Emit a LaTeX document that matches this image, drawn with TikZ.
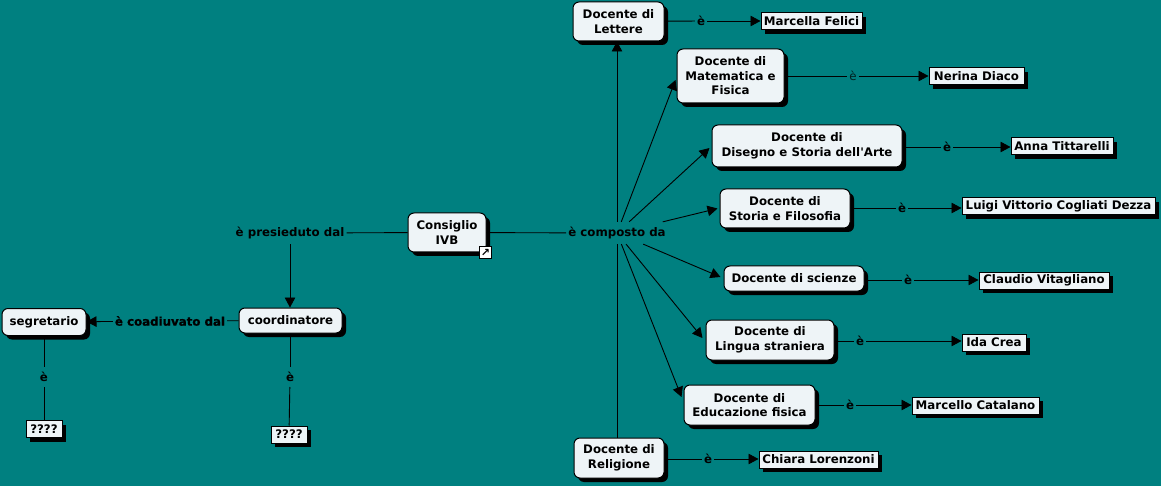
\documentclass[tikz,border=0pt]{standalone}
\usepackage{fontspec}
\setmainfont{DejaVu Sans}
\newfontface\heavyfont[FakeBold=1.2]{DejaVu Sans Bold}
\usepackage{xcolor}
\usetikzlibrary{arrows.meta,shadows}
\definecolor{mapteal}{HTML}{008080}
\definecolor{mapfill}{HTML}{EEF4F7}
\tikzset{
  conc/.style={draw=black, line width=1pt, rounded corners=6pt, fill=mapfill, align=center, inner sep=0pt, font=\fontsize{11.8}{14.5}\selectfont\bfseries, drop shadow={shadow xshift=4pt, shadow yshift=-4pt, fill=black, opacity=1}},
  namebox/.style={draw=black, line width=1pt, fill=mapfill, minimum height=17pt, inner sep=0pt, font=\fontsize{11.8}{13}\selectfont\bfseries, drop shadow={shadow xshift=4pt, shadow yshift=-4pt, fill=black, opacity=1}},
  link/.style={inner xsep=2pt, inner ysep=5pt, text=black, font=\fontsize{11.8}{13}\selectfont\bfseries},
  thinlink/.style={inner xsep=2pt, inner ysep=5pt, text=black!75!mapteal, font=\fontsize{11.8}{13}\selectfont},
  line/.style={line width=0.9pt, draw=black},
  arrow/.style={-{Triangle[length=10pt,width=10.5pt]}, line width=0.9pt, draw=black}
}

\begin{document}
\begin{tikzpicture}[x=1pt, y=-1pt]
  \fill[mapteal] (0,0) rectangle (1161,486);
  \useasboundingbox (0,0) rectangle (1161,486);

  \node[conc, minimum width=78pt, minimum height=39pt] (cons) at (447,232.5) {Consiglio\\IVB};
  \node[draw=black, line width=0.8pt, fill=white, minimum size=12pt, inner sep=0pt, font=\fontsize{11}{11}\selectfont\bfseries] (icon) at (485.5,252.5) {↗};

  \node[conc, minimum width=91pt, minimum height=39pt] (lett) at (618.5,21.5) {Docente di\\Lettere};
  \node[conc, minimum width=107pt, minimum height=54pt] (mate) at (730.5,76) {Docente di\\Matematica e\\Fisica};
  \node[conc, minimum width=190pt, minimum height=42pt] (dise) at (807,146) {Docente di\\Disegno e Storia dell\textquotesingle Arte};
  \node[conc, minimum width=130pt, minimum height=39pt] (stor) at (785,208.5) {Docente di\\Storia e Filosofia};
  \node[conc, minimum width=140pt, minimum height=25pt] (scie) at (794,278.5) {Docente di scienze};
  \node[conc, minimum width=128pt, minimum height=40pt] (ling) at (770,340) {Docente di\\Lingua straniera};
  \node[conc, minimum width=131pt, minimum height=40pt] (educ) at (749.5,405) {Docente di\\Educazione fisica};
  \node[conc, minimum width=90pt, minimum height=40pt] (reli) at (619,458) {Docente di\\Religione};
  \node[conc, minimum width=103pt, minimum height=25pt] (coor) at (290.5,320.5) {coordinatore};
  \node[conc, minimum width=84pt, minimum height=27pt] (segr) at (44,322) {segretario};

  \node[namebox, minimum width=101pt] (marc) at (811.5,21.5) {Marcella Felici};
  \node[namebox, minimum width=95pt] (neri) at (976.5,76.5) {Nerina Diaco};
  \node[namebox, minimum width=102pt] (anna) at (1062,146.5) {Anna Tittarelli};
  \node[namebox, minimum width=193pt] (luig) at (1058.5,206.5) {Luigi Vittorio Cogliati Dezza};
  \node[namebox, minimum width=130pt] (clau) at (1044,280.5) {Claudio Vitagliano};
  \node[namebox, minimum width=64pt] (ida) at (994,342.5) {Ida Crea};
  \node[namebox, minimum width=127pt] (mcat) at (975.5,405.5) {Marcello Catalano};
  \node[namebox, minimum width=119pt] (chia) at (818.5,459.5) {Chiara Lorenzoni};
  \node[namebox, minimum width=36pt] (qseg) at (44,429) {????};
  \node[namebox, minimum width=36pt] (qcoo) at (289,434.5) {????};

  \node[link] (comp) at (617,233) {è composto da};
  \node[link] (pres) at (290,233) {è presieduto dal};
  \node[link, font=\fontsize{11.8}{13}\heavyfont] (coad) at (170,321) {è coadiuvato dal};
  \node[link] (elet) at (701,21) {è};
  \node[thinlink] (emat) at (853,76) {è};
  \node[link] (edis) at (947,147) {è};
  \node[link] (esto) at (902,208) {è};
  \node[link] (esci) at (908,280) {è};
  \node[link] (elin) at (860,341) {è};
  \node[link] (eedu) at (850,405) {è};
  \node[link] (erel) at (708,459) {è};
  \node[link] (eseg) at (44,377) {è};
  \node[link] (ecoo) at (290,377) {è};

  \draw[line] (cons) -- (comp);
  \draw[line] (cons) -- (pres);
  \draw[arrow] (pres) -- (pres |- coor.north);
  \draw[line] (coor) -- (coad);
  \draw[arrow] (coad) -- (segr);
  \draw[line] (eseg |- segr.south) -- (eseg);
  \draw[line] (eseg) -- (eseg |- qseg.north);
  \draw[line] (ecoo |- coor.south) -- (ecoo);
  \draw[line] (ecoo) -- (qcoo);

  \draw[arrow] (comp) -- (comp |- lett.south);
  \draw[arrow] (comp) -- ([xshift=-1pt,yshift=-4pt]mate.west);
  \draw[arrow] (comp) -- ([xshift=-2pt,yshift=-2pt]dise.west);
  \draw[arrow] (comp) -- ([xshift=-2pt]stor.west);
  \draw[arrow] (comp) -- ([xshift=-3pt,yshift=1.5pt]scie.west);
  \draw[arrow] (comp) -- ([xshift=-3pt,yshift=2pt]ling.west);
  \draw[arrow] (comp) -- ([xshift=-2pt,yshift=8pt]educ.west);
  \draw[line] (comp |- reli.north) -- (comp);

  \draw[line] (lett) -- (elet);
  \draw[arrow] (elet) -- (elet -| marc.west);
  \draw[line] (mate) -- (emat);
  \draw[arrow] (emat) -- (emat -| neri.west);
  \draw[line] (edis -| dise.east) -- (edis);
  \draw[arrow] (edis) -- (edis -| anna.west);
  \draw[line] (esto -| stor.east) -- (esto);
  \draw[arrow] (esto) -- (esto -| luig.west);
  \draw[line] (esci -| scie.east) -- (esci);
  \draw[arrow] (esci) -- (esci -| clau.west);
  \draw[line] (elin -| ling.east) -- (elin);
  \draw[arrow] (elin) -- (elin -| ida.west);
  \draw[line] (eedu -| educ.east) -- (eedu);
  \draw[arrow] (eedu) -- (eedu -| mcat.west);
  \draw[line] (erel -| reli.east) -- (erel);
  \draw[arrow] (erel) -- (erel -| chia.west);
\end{tikzpicture}
\end{document}
